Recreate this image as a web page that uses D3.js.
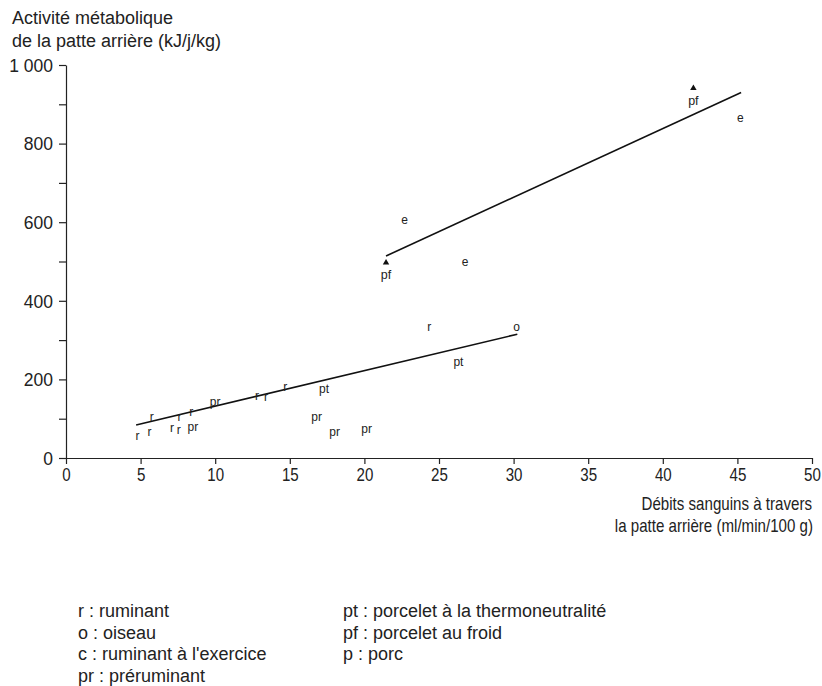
<!DOCTYPE html>
<html>
<head>
<meta charset="utf-8">
<script src="https://cdn.jsdelivr.net/npm/d3@7"></script>
<style>
  body { margin: 0; background: #fff; }
  svg text { font-family: "Liberation Sans", Arial, sans-serif; fill: #222; }
  .axis path, .axis line { stroke: #222; stroke-width: 1.2; }
  .axis text { font-size: 17.5px; }
</style>
</head>
<body>
<svg id="chart"></svg>
<script>
// Data
const pointCodes = ["r", "r", "r", "r", "r", "r", "pr", "r", "pr", "r", "r", "r", "pt", "pr", "pr", "pr",
                    "r", "o", "pt", "e", "e", "e"];
const flowValues = [4.8, 5.6, 5.75, 7.1, 7.55, 7.6, 8.5, 8.4, 10.0, 12.8, 13.4, 14.7, 17.3, 16.8, 18.0, 20.15,
                    24.35, 30.2, 26.3, 22.7, 26.75, 45.2];
const activityValues = [57, 67, 105, 78, 72, 104, 80, 118, 143, 158, 156, 181, 177, 105, 67, 75,
                        334, 334, 245, 606, 498, 866];

// porcelet au froid (triangles)
const pfFlow = [21.45, 42.05];
const pfActivity = [497, 941];

// regression lines (end points)
const lowerLineX = [4.7, 30.25];
const lowerLineY = [84, 315];
const upperLineX = [21.45, 45.25];
const upperLineY = [514, 930];

const xTicks = [0, 5, 10, 15, 20, 25, 30, 35, 40, 45, 50];
const yTicks = [0, 100, 200, 300, 400, 500, 600, 700, 800, 900, 1000];
const yLabelled = [0, 200, 400, 600, 800, 1000];

const xTitle = ["Débits sanguins à travers", "la patte arrière (ml/min/100 g)"];
const yTitle = ["Activité métabolique", "de la patte arrière (kJ/j/kg)"];

const legendLeft = ["r : ruminant", "o : oiseau", "c : ruminant à l'exercice", "pr : préruminant"];
const legendRight = ["pt : porcelet à la thermoneutralité", "pf : porcelet au froid", "p : porc"];

const width = 822, height = 686;
const margin = { top: 65, right: 10, bottom: 228, left: 66 };
const innerH = height - margin.top - margin.bottom;

const svg = d3.select("#chart").attr("width", width).attr("height", height);
const chart = svg.append("g").attr("transform", `translate(${margin.left},${margin.top})`);

const xScale = d3.scaleLinear().domain([0, 50]).range([0, 746]);
const yScale = d3.scaleLinear().domain([0, 1000]).range([innerH, 0]);

// axes
const xAxis = d3.axisBottom(xScale).tickValues(xTicks).tickSize(6).tickSizeOuter(0);
const yAxis = d3.axisLeft(yScale).tickValues(yTicks).tickSize(7).tickSizeOuter(0)
  .tickFormat(d => yLabelled.includes(d) ? (d === 1000 ? "1 000" : d) : "");

// x labels use a condensed look (glyphs squeezed horizontally)
chart.append("g").attr("class", "axis x-axis")
  .attr("transform", `translate(0,${innerH})`)
  .call(xAxis)
  .call(g => g.selectAll("text")
    .attr("y", 8).attr("dy", "0.85em")
    .attr("transform", "scale(0.84,1)")
    .style("font-size", "18px"));

chart.append("g").attr("class", "axis y-axis")
  .call(yAxis)
  .call(g => g.selectAll("text").attr("x", -13).attr("dy", "0.36em"));

// axis titles
svg.selectAll(".y-title")
  .data(yTitle)
  .join("text")
  .attr("class", "y-title")
  .attr("x", 12)
  .attr("y", (d, i) => 24 + i * 23)
  .style("font-size", "18px")
  .text(d => d);

// x title in the same condensed style as the x tick labels
svg.selectAll(".x-title")
  .data(xTitle)
  .join("text")
  .attr("class", "x-title")
  .attr("transform", (d, i) => `translate(${812 + i},${510 + i * 22}) scale(0.84,1)`)
  .attr("text-anchor", "end")
  .style("font-size", "18px")
  .text(d => d);

// regression lines
const line = d3.line().x(d => xScale(d[0])).y(d => yScale(d[1]));
chart.append("path")
  .attr("d", line(d3.zip(lowerLineX, lowerLineY)))
  .attr("fill", "none").attr("stroke", "#111").attr("stroke-width", 1.6);
chart.append("path")
  .attr("d", line(d3.zip(upperLineX, upperLineY)))
  .attr("fill", "none").attr("stroke", "#111").attr("stroke-width", 1.6);

// letter marks
const points = pointCodes.map((c, i) => ({ code: c, x: flowValues[i], y: activityValues[i] }));
chart.selectAll(".code")
  .data(points)
  .join("text")
  .attr("class", "code")
  .attr("x", d => xScale(d.x))
  .attr("y", d => yScale(d.y))
  .attr("dy", "0.35em")
  .attr("text-anchor", "middle")
  .style("font-size", "12px")
  .text(d => d.code);

// pf triangles with labels
const pfPoints = pfFlow.map((x, i) => ({ x, y: pfActivity[i] }));
chart.selectAll(".pf")
  .data(pfPoints)
  .join("path")
  .attr("class", "pf")
  .attr("transform", d => `translate(${xScale(d.x)},${yScale(d.y)})`)
  .attr("d", d3.symbol(d3.symbolTriangle, 18))
  .attr("fill", "#111");
chart.selectAll(".pf-label")
  .data(pfPoints)
  .join("text")
  .attr("class", "pf-label")
  .attr("x", d => xScale(d.x))
  .attr("y", d => yScale(d.y) + 12)
  .attr("dy", "0.35em")
  .attr("text-anchor", "middle")
  .style("font-size", "12.5px")
  .text("pf");

// legend
svg.selectAll(".leg-left")
  .data(legendLeft)
  .join("text")
  .attr("class", "leg-left")
  .attr("x", 78)
  .attr("y", (d, i) => 617 + i * 21.6)
  .style("font-size", "18px")
  .text(d => d);
svg.selectAll(".leg-right")
  .data(legendRight)
  .join("text")
  .attr("class", "leg-right")
  .attr("x", 343)
  .attr("y", (d, i) => 617 + i * 21.6)
  .style("font-size", "18px")
  .text(d => d);
</script>
</body>
</html>
